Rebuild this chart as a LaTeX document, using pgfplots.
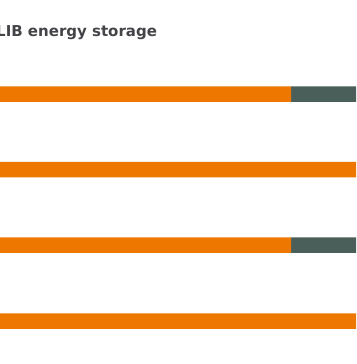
\documentclass[border=0pt]{standalone}
\usepackage{pgfplots}
\pgfplotsset{compat=1.18}
\usepackage{fontspec}
\setmainfont{DejaVu Sans}
\definecolor{bor}{RGB}{238,119,0}
\definecolor{dk}{RGB}{74,95,89}
\definecolor{titlegray}{RGB}{68,68,72}
\begin{document}
\begin{tikzpicture}
\useasboundingbox (0,0) rectangle (356pt,364pt);
\clip (0,0) rectangle (356pt,364pt);
\begin{axis}[at={(0,0)},anchor=south west, scale only axis, width=356pt, height=364pt,
  xmin=0,xmax=356, ymin=0,ymax=364, y dir=reverse, hide axis, clip=false,
  xbar stacked, bar width=15.5pt]
\addplot[fill=bor, draw=none] coordinates {(291,94) (356,169.5) (291,245) (356,321)};
\addplot[fill=dk, draw=none] coordinates {(65,94) (0,169.5) (65,245) (0,321)};
\node[anchor=base west, font=\bfseries\fontsize{15}{18}\selectfont, text=titlegray, inner sep=0pt] at (axis cs:-4,37) {LIB energy storage};
\end{axis}
\end{tikzpicture}
\end{document}
